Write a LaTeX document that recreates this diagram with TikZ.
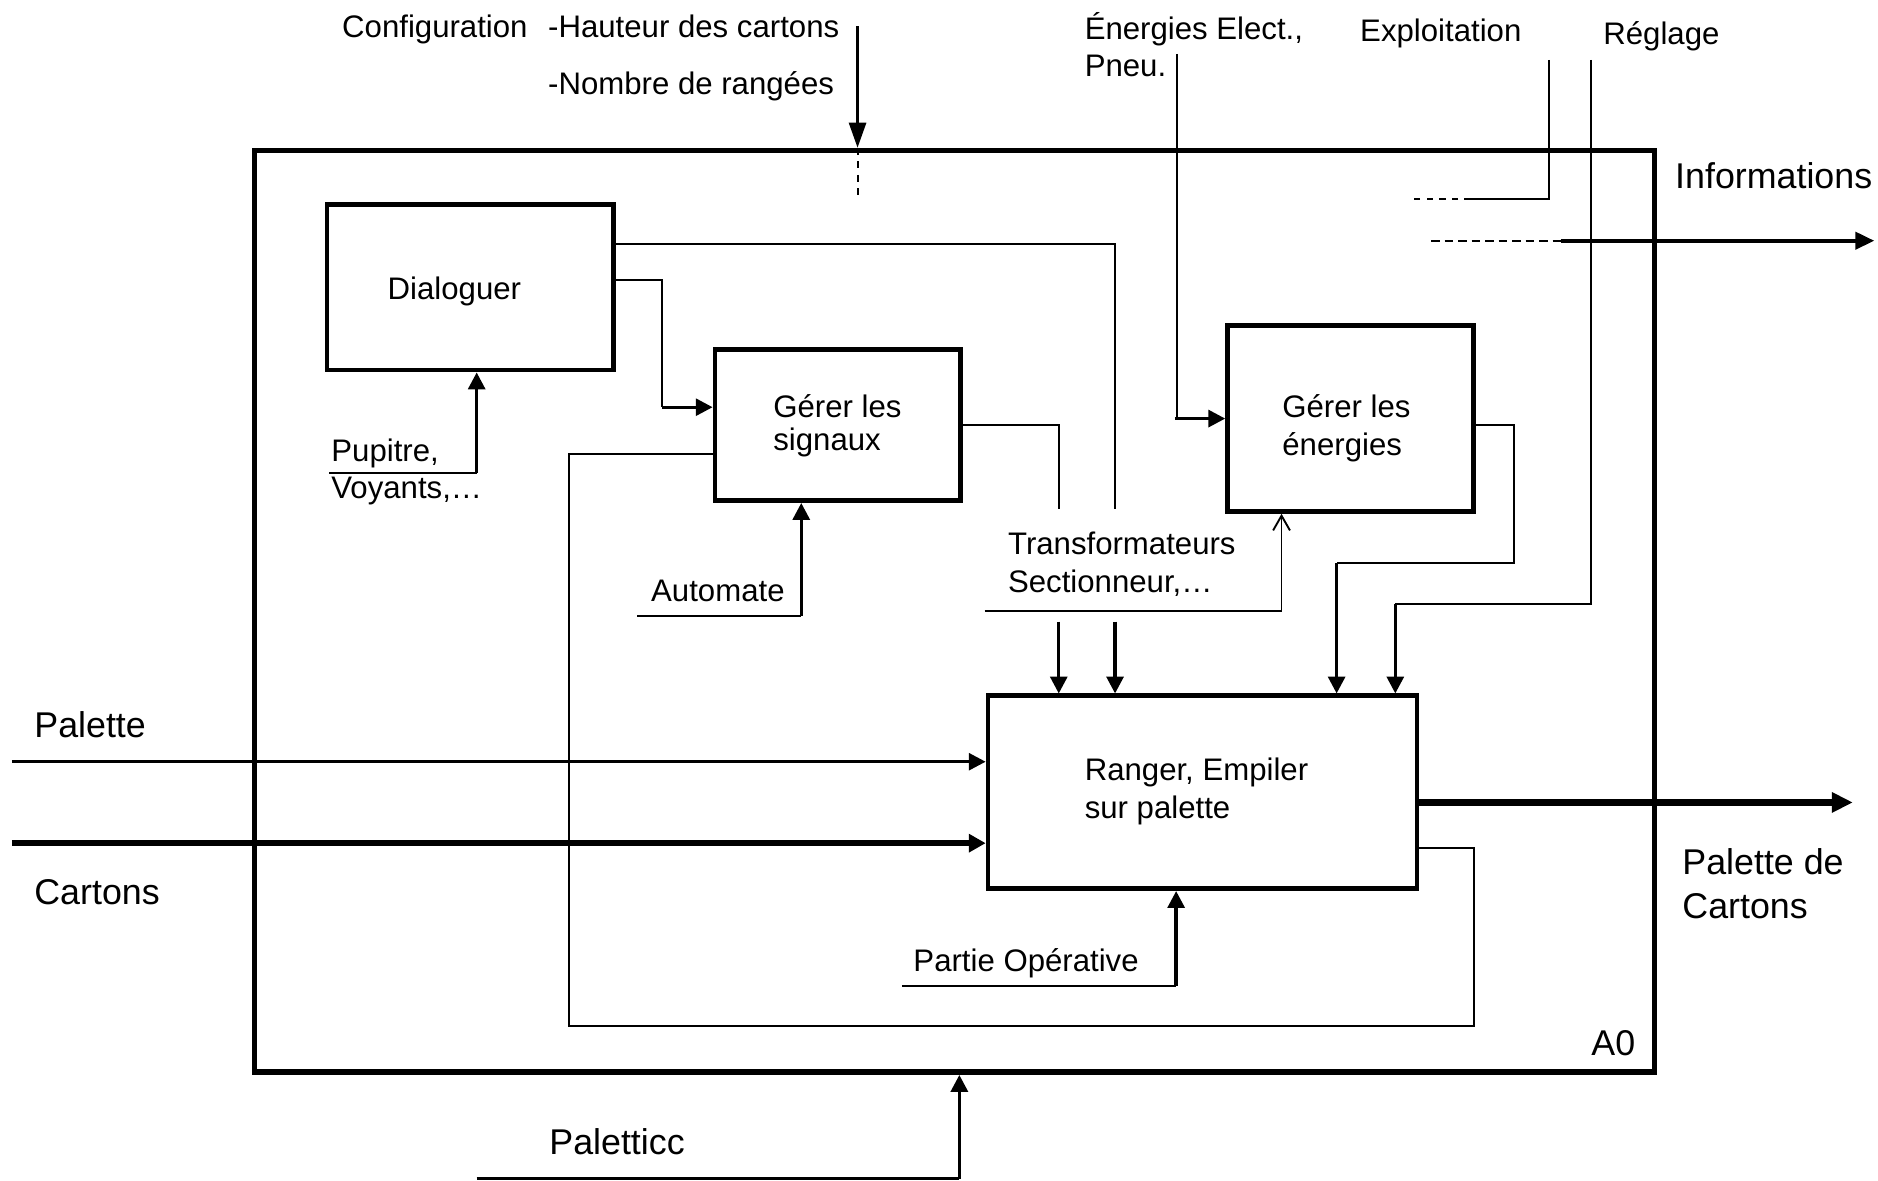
\documentclass[tikz,border=0pt]{standalone}
\usepackage{fontspec}
\setmainfont{Liberation Sans}
\usepackage{tikz}
\usetikzlibrary{arrows.meta,positioning}
\newcommand{\petit}{\fontsize{7.4pt}{8.8pt}\selectfont}
\newcommand{\grand}{\fontsize{8.5pt}{10.4pt}\selectfont}
\tikzstyle{arrow} = [line width=0.8pt,-{Triangle[length=4pt,width=4pt]}]
\tikzstyle{fil} = [line width=0.45pt]
\tikzstyle{bloc} = [draw,line width=1.1pt,inner sep=0pt]
\tikzstyle{txt} = [anchor=base west,inner sep=0pt,font=\petit]
\tikzstyle{gtxt} = [anchor=base west,inner sep=0pt,font=\grand]

\begin{document}
\begin{tikzpicture}[x=0.01cm,y=-0.01cm]
	\useasboundingbox (0,0) rectangle (1568,986);
	
	% Cadre A0 et boites:
	\node[draw,line width=1.3pt,minimum width=11.68cm,minimum height=7.69cm,inner sep=0pt] (cadre) at (797,510.5) {};
	\node[gtxt] (a0) at (1328,881) {A0};
	
	\node[bloc,minimum width=2.39cm,minimum height=1.38cm] (dial) at (392.5,240) {};
	\node[bloc,minimum width=2.05cm,minimum height=1.26cm] (sign) at (699.5,355) {};
	\node[bloc,minimum width=2.05cm,minimum height=1.55cm] (ener) at (1127.5,349.5) {};
	\node[bloc,minimum width=3.58cm,minimum height=1.61cm] (rang) at (1004,661.5) {};
	
	\node[txt] (dialt) at (323,250) {Dialoguer};
	\node[txt] (signt1) at (645,349) {Gérer les};
	\node[txt] (signt2) at (645,376) {signaux};
	\node[txt] (enert1) at (1070,349) {Gérer les};
	\node[txt] (enert2) at (1070,380) {énergies};
	\node[txt] (rangt1) at (905,652) {Ranger, Empiler};
	\node[txt] (rangt2) at (905,683) {sur palette};
	
	% Textes:
	\node[txt] (conf) at (285,31) {Configuration};
	\node[txt] (haut) at (457,31) {-Hauteur des cartons};
	\node[txt] (nomb) at (457,79) {-Nombre de rangées};
	\node[txt] (elec1) at (905,33) {Énergies Elect.,};
	\node[txt] (elec2) at (905,64) {Pneu.};
	\node[txt] (expl) at (1135,35) {Exploitation};
	\node[txt] (regl) at (1338,37) {Réglage};
	\node[gtxt] (info) at (1398,157) {Informations};
	\node[txt] (pup1) at (276,385) {Pupitre,};
	\node[txt] (pup2) at (276,416) {Voyants,…};
	\node[txt] (auto) at (543,502) {Automate};
	\node[txt] (trans1) at (841,463) {Transformateurs};
	\node[txt] (trans2) at (841,495) {Sectionneur,…};
	\node[gtxt] (pal) at (28,616) {Palette};
	\node[gtxt] (cart) at (28,755) {Cartons};
	\node[gtxt] (sort1) at (1404,730) {Palette de};
	\node[gtxt] (sort2) at (1404,767) {Cartons};
	\node[txt] (part) at (762,811) {Partie Opérative};
	\node[gtxt] (palc) at (458,964) {Paletticc};
	
	% Controles (haut):
	\coordinate (c0) at (716,22);
	\draw[arrow,-{Triangle[length=6pt,width=4pt]}] (c0) -- (c0 |- cadre.north);
	\draw[fil,dash pattern=on 1.6pt off 1.6pt] (cadre.north -| c0) -- ++(0,42);
	
	\coordinate (e0) at (983,45);
	\draw[fil] (e0) |- ([xshift=-0.42cm]ener.west);
	\draw[arrow] ([xshift=-0.42cm]ener.west) -- (ener.west);
	
	\coordinate (x0) at (1293,50);
	\coordinate (x1) at (1228,166);
	\draw[fil] (x0) |- (x1);
	\draw[fil,dash pattern=on 1.5pt off 1.5pt] (x1) -- ++(-48,0);
	
	\coordinate (r0) at (1328,50);
	\coordinate (r1) at (1165,504);
	\draw[fil] (r0) |- (r1);
	\draw[arrow] (r1) -- (r1 |- rang.north);
	
	% Informations:
	\coordinate (i0) at (1195,201);
	\coordinate (i1) at (1303,201);
	\coordinate (i2) at (1565,201);
	\draw[fil,dash pattern=on 2pt off 1.2pt] (i0) -- (i1);
	\draw[line width=1pt,-{Triangle[length=4.5pt,width=4pt]}] (i1) -- (i2);
	
	% Liaisons internes:
	\coordinate (d1) at (931,425);
	\draw[fil] ([yshift=0.36cm]dial.east) -| (d1);
	\draw[fil] ([yshift=0.06cm]dial.east) -| ([xshift=-0.42cm,yshift=0.15cm]sign.west);
	\draw[arrow] ([xshift=-0.42cm,yshift=0.15cm]sign.west) -- ([yshift=0.15cm]sign.west);
	
	\coordinate (s1) at (884,425);
	\draw[fil] (sign.east) -| (s1);
	
	\foreach \x in {884,931}{%
		\coordinate (t) at (\x,519);
		\draw[arrow] (t) -- (t |- rang.north);
	}
	
	\coordinate (en1) at (1116,470);
	\draw[fil] ([yshift=-0.05cm]ener.east) -| (1264,470) -- (en1);
	\draw[arrow] (en1) -- (en1 |- rang.north);
	
	% Supports:
	\coordinate (p0) at (275,395);
	\coordinate (p1) at (398,395);
	\draw[fil] (p0) -- (p1);
	\draw[arrow] (p1) -- (p1 |- dial.south);
	
	\coordinate (au0) at (532,514);
	\coordinate (au1) at (669,514);
	\draw[fil] (au0) -- (au1);
	\draw[arrow] (au1) -- (au1 |- sign.south);
	
	\coordinate (tr0) at (822,510);
	\coordinate (tr1) at (1070,510);
	\draw[fil,-{Straight Barb[length=3.5pt,width=4pt]}] (tr0) -- (tr1) -- (tr1 |- ener.south);
	
	\coordinate (po0) at (753,823);
	\coordinate (po1) at (982,823);
	\draw[fil] (po0) -- (po1);
	\draw[arrow] (po1) -- (po1 |- rang.south);
	
	\coordinate (pt0) at (398,984);
	\coordinate (pt1) at (801,984);
	\draw[line width=0.6pt] (pt0) -- (pt1);
	\draw[arrow] (pt1) -- (pt1 |- cadre.south);
	
	% Entrees / sortie:
	\coordinate (pl0) at (10,636);
	\draw[line width=0.75pt,-{Triangle[length=4pt,width=4pt]}] (pl0) -- (pl0 -| rang.west);
	\coordinate (ct0) at (10,704);
	\draw[line width=1.3pt,-{Triangle[length=4pt,width=4.2pt]}] (ct0) -- (ct0 -| rang.west);
	\coordinate (o1) at (1547,670);
	\draw[line width=1.5pt,-{Triangle[length=5pt,width=4.6pt]}] (o1 -| rang.east) -- (o1);
	
	% Boucle de retour:
	\coordinate (f0) at (1231,857);
	\coordinate (f1) at (475,379);
	\coordinate (f2) at (1231,708);
	\draw[fil] (f2 -| rang.east) -- (f2) -- (f0) -| (f1) -- (f1 -| sign.west);
\end{tikzpicture}
\end{document}
